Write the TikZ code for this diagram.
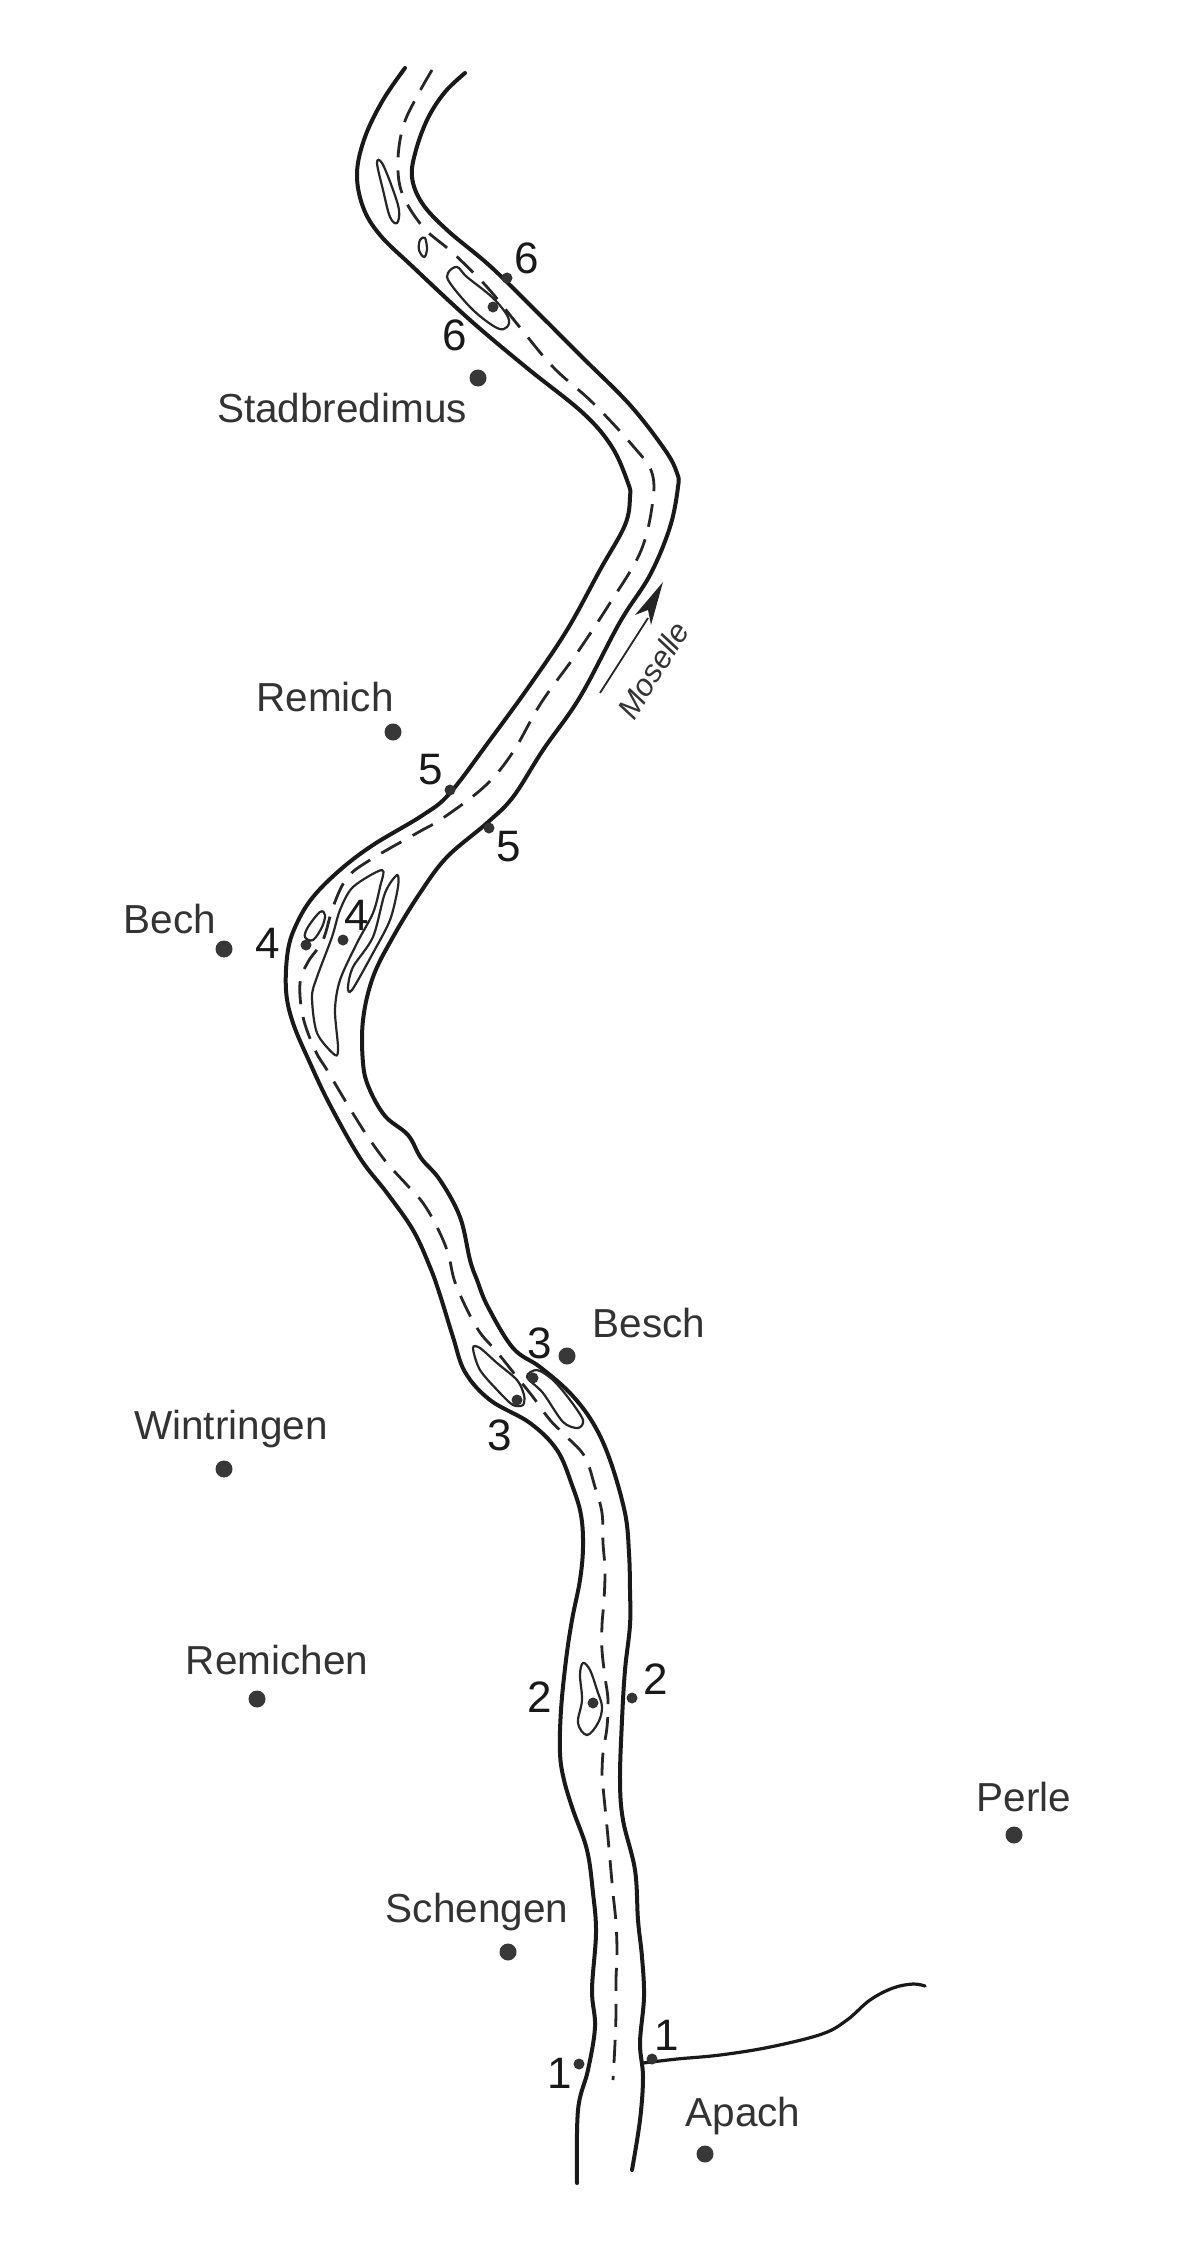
\documentclass[tikz,border=0pt]{standalone}
\usepackage{fontspec}
\setmainfont{Liberation Sans}
\tikzset{
  x=1pt,y=-1pt,
  bank/.style={draw=black!90,line width=4pt,line cap=round,line join=round},
  channel/.style={draw=black!85,line width=2.8pt,dash pattern=on 23pt off 13pt},
  isle/.style={draw=black!85,line width=2.2pt},
  town/.style={circle,fill=black!78,inner sep=0pt,minimum size=17pt},
  site/.style={circle,fill=black!80,inner sep=0pt,minimum size=11pt},
  place/.style={inner sep=0pt,text=black!80,font=\fontsize{40.5}{40.5}\selectfont},
  num/.style={inner sep=0pt,text=black!90,font=\fontsize{44}{44}\selectfont}
}
\begin{document}
\begin{tikzpicture}
\useasboundingbox (0,0) rectangle (1200,2250);
\fill[white] (0,0) rectangle (1200,2250);
% left bank
\draw[bank] plot[smooth,tension=.6] coordinates {(405,68)(383,100)(365,137)(357,173)(363,207)(380,235)(413,267)(470,320)(527,368)(583,413)(612,447)(628,483)(630,497)(625,525)(600,570)(567,630)(530,685)(490,740)(450,793)(423,815)(373,845)(340,870)(313,897)(297,923)(288,950)(286,990)(293,1023)(310,1063)(330,1105)(360,1158)(387,1193)(413,1230)(430,1267)(440,1295)(453,1337)(465,1372)(490,1400)(530,1423)(557,1450)(572,1485)(581,1515)(583,1547)(580,1580)(572,1620)(566,1660)(561,1710)(560,1753)(564,1780)(573,1810)(587,1850)(593,1893)(596,1933)(592,1990)(595,2027)(588,2070)(578,2110)(577,2183)};
% right bank
\draw[bank] plot[smooth,tension=.6] coordinates {(465,73)(445,92)(428,118)(416,150)(412,177)(422,203)(447,230)(490,266)(535,310)(583,358)(630,405)(665,450)(677,473)(678,487)(670,527)(650,575)(620,622)(580,697)(543,750)(513,797)(487,823)(447,857)(420,893)(393,937)(373,977)(363,1020)(363,1063)(369,1088)(385,1116)(408,1135)(421,1158)(440,1180)(460,1217)(470,1260)(477,1280)(488,1307)(513,1348)(540,1367)(570,1393)(593,1423)(610,1460)(625,1513)(629,1553)(630,1590)(630,1625)(625,1670)(622,1720)(620,1780)(623,1820)(635,1870)(638,1920)(642,1957)(644,1997)(640,2043)(643,2077)(640,2120)(632,2170)};
% navigation channel
\draw[channel] plot[smooth,tension=.6] coordinates {(432,70)(415,100)(403,127)(398,160)(402,193)(423,227)(453,253)(487,287)(518,325)(553,367)(593,403)(633,446)(652,473)(652,507)(640,553)(610,603)(577,653)(541,703)(513,752)(485,786)(443,818)(417,833)(370,860)(347,878)(333,907)(323,940)(308,962)(300,983)(303,1017)(315,1050)(327,1070)(343,1097)(357,1120)(370,1140)(387,1163)(407,1185)(423,1203)(437,1227)(448,1253)(456,1285)(477,1328)(497,1352)(517,1377)(533,1397)(550,1420)(567,1437)(585,1457)(595,1487)(602,1513)(603,1543)(605,1570)(604,1600)(602,1625)(602,1650)(605,1677)(608,1700)(607,1727)(603,1753)(602,1777)(603,1787)(607,1827)(610,1860)(613,1893)(616,1923)(617,1953)(616,1980)(616,2013)(615,2043)(613,2080)};
% islands
\draw[isle] plot[smooth cycle,tension=.6] coordinates {(377,163)(383,190)(390,217)(397,223)(399,210)(392,187)(382,163)};
\draw[isle] plot[smooth cycle,tension=.6] coordinates {(420,240)(419,250)(424,257)(427,250)(425,238)};
\draw[isle] plot[smooth cycle,tension=.6] coordinates {(448,273)(450,283)(473,310)(497,328)(507,327)(508,317)(493,298)(467,277)(457,267)};
\draw[isle] plot[smooth cycle,tension=.5] coordinates {(382,870)(353,887)(340,910)(332,937)(317,977)(312,997)(317,1033)(335,1055)(338,1047)(335,1010)(340,980)(357,943)(373,913)(380,887)};
\draw[isle] plot[smooth cycle,tension=.5] coordinates {(397,875)(385,893)(373,937)(353,967)(348,987)(352,990)(373,953)(390,920)(398,887)};
\draw[isle] plot[smooth cycle,tension=.6] coordinates {(320,912)(308,927)(305,937)(313,940)(322,927)(325,915)};
\draw[isle] plot[smooth cycle,tension=.5] coordinates {(473,1348)(480,1370)(500,1393)(513,1405)(523,1405)(524,1395)(517,1380)(497,1363)(480,1348)};
\draw[isle] plot[smooth cycle,tension=.5] coordinates {(527,1377)(543,1393)(563,1422)(578,1428)(583,1420)(570,1400)(553,1380)(537,1370)};
\draw[isle] plot[smooth cycle,tension=.6] coordinates {(583,1663)(580,1675)(582,1700)(578,1723)(587,1735)(598,1723)(602,1707)(597,1690)(590,1670)};
% tributary
\draw[bank,line width=3.2pt] plot[smooth,tension=.6] coordinates {(643,2063)(677,2059)(720,2055)(770,2047)(822,2034)(847,2020)(870,2000)(893,1988)(913,1984)(925,1986)};
% flow arrow
\coordinate (flowA) at (600,693);
\coordinate (flowB) at (648,618);
\draw[black!85,line width=1.8pt] (flowA) -- (flowB);
\fill[black!85] (663,582) -- (651,625) -- (648,610) -- (635,615) -- cycle;
\node[inner sep=0pt,text=black!80,rotate=58,font=\fontsize{31}{31}\selectfont\itshape] (moselle) at (653,670) {Moselle};
% sites
\node[site] (s6a) at (507,278) {};
\node[site] (s6b) at (493,307) {};
\node[site] (s5a) at (450,790) {};
\node[site] (s5b) at (489,828) {};
\node[site] (s4a) at (306,945) {};
\node[site] (s4b) at (343,940) {};
\node[site] (s3a) at (517,1400) {};
\node[site] (s3b) at (533,1378) {};
\node[site] (s2a) at (593,1703) {};
\node[site] (s2b) at (632,1698) {};
\node[site] (s1a) at (579,2064) {};
\node[site] (s1b) at (652,2059) {};
% numbers
\node[num] (n6a) at (527,258) {6};
\node[num] (n6b) at (455,335) {6};
\node[num] (n5a) at (431,770) {5};
\node[num] (n5b) at (509,847) {5};
\node[num] (n4a) at (268,943) {4};
\node[num] (n4b) at (357,915) {4};
\node[num] (n3a) at (540,1343) {3};
\node[num] (n3b) at (500,1435) {3};
\node[num] (n2a) at (540,1697) {2};
\node[num] (n2b) at (656,1679) {2};
\node[num] (n1a) at (560,2073) {1};
\node[num] (n1b) at (667,2035) {1};
% towns
\node[town] (dStad) at (478,378) {};
\node[place] (tStad) at (342,408) {Stadbredimus};
\node[town] (dRemich) at (393,732) {};
\node[place] (tRemich) at (325,697) {Remich};
\node[town] (dBech) at (224,949) {};
\node[place] (tBech) at (170,919) {Bech};
\node[town] (dBesch) at (567,1356) {};
\node[place] (tBesch) at (649,1323) {Besch};
\node[town] (dWin) at (224,1469) {};
\node[place] (tWin) at (231,1429) {Wintringen};
\node[town] (dRem) at (257,1699) {};
\node[place] (tRem) at (277,1660) {Remichen};
\node[town] (dPerle) at (1014,1835) {};
\node[place] (tPerle) at (1024,1797) {Perle};
\node[town] (dSch) at (508,1952) {};
\node[place] (tSch) at (477,1912) {Schengen};
\node[town] (dApach) at (705,2154) {};
\node[place] (tApach) at (743,2116) {Apach};
\end{tikzpicture}
\end{document}
